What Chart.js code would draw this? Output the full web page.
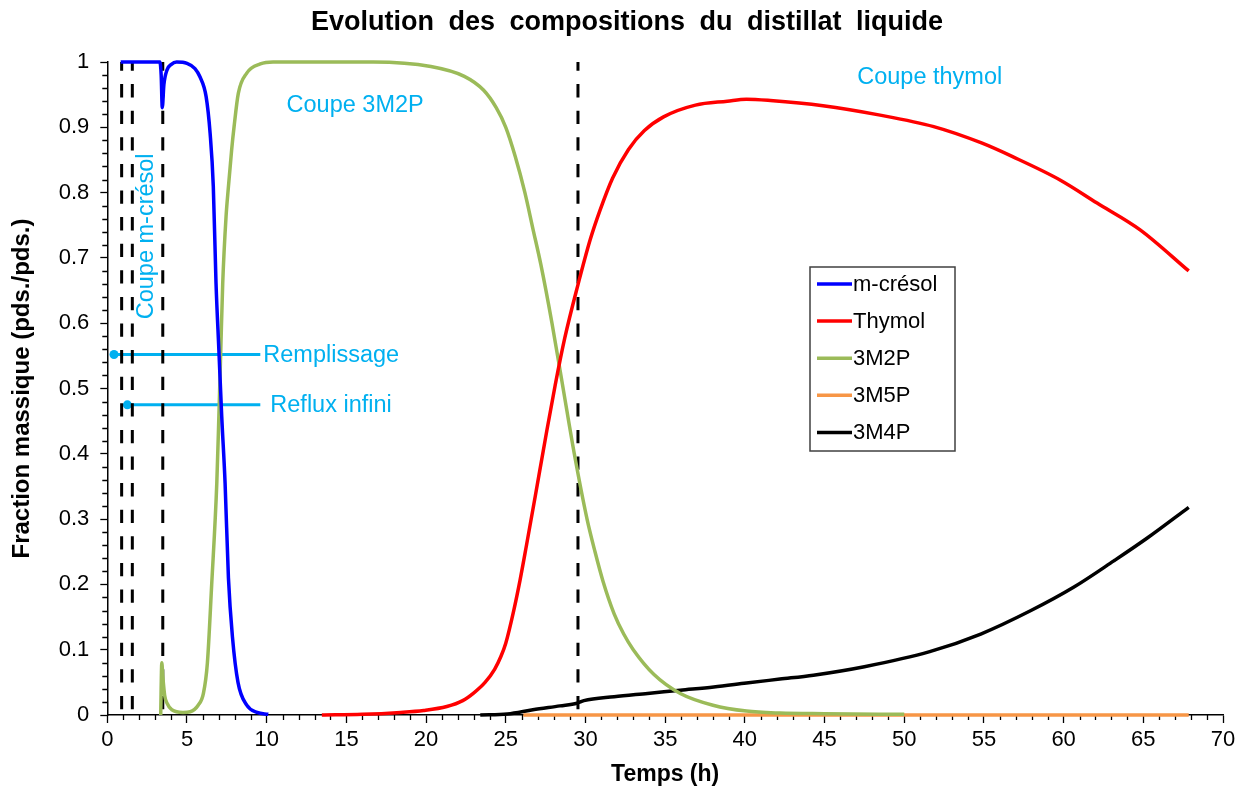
<!DOCTYPE html>
<html><head><meta charset="utf-8">
<script src="https://cdn.jsdelivr.net/npm/chart.js@4/dist/chart.umd.min.js"></script>
<style>html,body{margin:0;padding:0;background:#fff}</style>
</head><body>
<canvas id="c" width="1245" height="795"></canvas>
<script>
// ---------- texts ----------
const titleText = 'Evolution des compositions du distillat liquide';
const xTitleText = 'Temps (h)';
const yTitleText = 'Fraction massique (pds./pds.)';
const seriesNames = ['m-crésol', 'Thymol', '3M2P', '3M5P', '3M4P'];
const seriesColors = ['#0000FF', '#FF0000', '#9BBB59', '#F79646', '#000000'];

// ---------- tick labels ----------
const xTicks = [0, 5, 10, 15, 20, 25, 30, 35, 40, 45, 50, 55, 60, 65, 70];
const yTicks = [0, 0.1, 0.2, 0.3, 0.4, 0.5, 0.6, 0.7, 0.8, 0.9, 1];
const xMinorStep = 1;
const yMinorStep = 0.02;

// ---------- series ----------
const cresolX = [0.84, 3.3, 3.38, 3.45, 3.55, 3.75, 4.0, 4.35, 5.0, 5.5, 5.82, 6.2, 6.45, 6.65, 6.82, 7.0, 7.18, 7.39, 7.6, 7.85, 8.2, 8.75, 9.4, 10.1];
const cresolY = [1, 1, 0.98, 0.93, 0.965, 0.988, 0.996, 1.0, 0.998, 0.99, 0.977, 0.947, 0.891, 0.81, 0.662, 0.559, 0.457, 0.355, 0.21, 0.12, 0.05, 0.015, 0.004, 0.001];

const thymolX = [13.46, 16, 18.4, 19.85, 21.3, 22.3, 23.0, 23.7, 24.3, 24.7, 25.0, 25.5, 25.9, 26.3, 26.85, 27.5, 28.1, 28.7, 29.5, 30.3, 30.9, 31.7, 32.7, 33.7, 34.9, 36.9, 38.9, 40.1, 41.6, 44.9, 48.4, 51.85, 54.85, 56.8, 59.8, 62.1, 64.8, 67.85];
const thymolY = [0, 0.001, 0.004, 0.007, 0.013, 0.022, 0.034, 0.05, 0.07, 0.09, 0.11, 0.16, 0.207, 0.26, 0.335, 0.425, 0.505, 0.577, 0.656, 0.728, 0.772, 0.822, 0.866, 0.895, 0.916, 0.934, 0.94, 0.943, 0.941, 0.933, 0.919, 0.901, 0.876, 0.855, 0.819, 0.784, 0.743, 0.68];

const m2pX = [3.35, 3.42, 3.48, 3.6, 3.75, 4.05, 4.75, 5.2, 5.7, 6.03, 6.28, 6.55, 6.87, 7.0, 7.12, 7.24, 7.45, 7.6, 7.8, 7.95, 8.22, 8.75, 9.6, 10.4, 16.7, 20.3, 22.4, 23.6, 24.4, 25.0, 25.6, 26.2, 26.7, 27.2, 27.9, 28.6, 29.3, 30.1, 30.6, 31.1, 31.8, 32.4, 33.0, 34.3, 35.95, 38.0, 40.1, 42.2, 45, 50];
const m2pY = [0, 0.08, 0.06, 0.03, 0.018, 0.008, 0.004, 0.005, 0.015, 0.033, 0.08, 0.2, 0.355, 0.457, 0.559, 0.66, 0.763, 0.809, 0.865, 0.9, 0.952, 0.983, 0.997, 1.0, 1.0, 0.993, 0.978, 0.957, 0.93, 0.9, 0.855, 0.8, 0.745, 0.69, 0.6, 0.5, 0.4, 0.3, 0.25, 0.205, 0.155, 0.124, 0.1, 0.062, 0.033, 0.015, 0.006, 0.003, 0.002, 0.001];

const m5pX = [26.1, 30, 35, 40, 45, 50, 55, 60, 65, 67.85];
const m5pY = [0, 0, 0, 0, 0, 0, 0, 0, 0, 0];

const m4pX = [23.4, 25.1, 26.7, 28.4, 29.47, 29.9, 31.8, 33.9, 35.95, 38.05, 40.1, 42.2, 44.3, 47.5, 51.6, 54.8, 57.95, 60.65, 63.15, 65.25, 67.85];
const m4pY = [0, 0.0015, 0.008, 0.014, 0.018, 0.022, 0.028, 0.033, 0.038, 0.043, 0.049, 0.055, 0.061, 0.074, 0.097, 0.124, 0.16, 0.196, 0.236, 0.271, 0.318];

// vertical cut markers (time, h)
const cutTimes = [0.9, 1.57, 3.48, 29.53];

// annotation arrows
const annotLabels = ['Remplissage', 'Reflux infini'];
const annotStartX = [0.42, 1.26];
const annotEndX = [9.6, 9.6];
const annotY = [0.552, 0.475];

// zone labels
const zoneLabels = ['Coupe m-crésol', 'Coupe 3M2P', 'Coupe thymol'];
const zoneX = [2.49, 15.55, 51.6];
const zoneY = [0.733, 0.934, 0.977];

const CYAN = '#00B0F0';
const FONT = "'Liberation Sans', Arial, sans-serif";

function pts(xs, ys) { return xs.map((x, i) => ({ x: x, y: ys[i] })); }

const seriesX = [cresolX, thymolX, m2pX, m5pX, m4pX];
const seriesY = [cresolY, thymolY, m2pY, m5pY, m4pY];

const datasets = [];
seriesNames.forEach((name, i) => {
  datasets.push({
    label: name,
    data: pts(seriesX[i], seriesY[i]),
    borderColor: seriesColors[i],
    backgroundColor: seriesColors[i],
    borderWidth: 3.5,
    pointRadius: 0,
    showLine: true,
    cubicInterpolationMode: 'monotone',
    clip: false
  });
});
cutTimes.forEach((t) => {
  datasets.push({
    label: '_cut',
    data: [{ x: t, y: 1 }, { x: t, y: 0 }],
    borderColor: '#000',
    borderWidth: 3,
    borderDash: [13.3, 13.3],
    borderDashOffset: 4.5,
    pointRadius: 0,
    showLine: true,
    tension: 0,
    clip: false
  });
});
annotLabels.forEach((lab, i) => {
  datasets.push({
    label: '_annot',
    data: [{ x: annotStartX[i], y: annotY[i] }, { x: annotEndX[i], y: annotY[i] }],
    borderColor: CYAN,
    backgroundColor: CYAN,
    borderWidth: 3,
    pointRadius: (c) => c.dataIndex === 0 ? 4.5 : 0,
    pointBorderWidth: 0,
    showLine: true,
    tension: 0,
    clip: false
  });
});

const decor = {
  id: 'decor',
  beforeDatasetsDraw(chart) {
    const ctx = chart.ctx, xs = chart.scales.x, ys = chart.scales.y;
    ctx.save();
    ctx.strokeStyle = '#000';
    ctx.lineWidth = 1.3;
    ctx.beginPath();
    const nx = Math.round((xs.max - xs.min) / xMinorStep);
    for (let k = 0; k <= nx; k++) {
      const v = xs.min + k * xMinorStep;
      if (Math.abs(v / 5 - Math.round(v / 5)) < 1e-6) continue;
      const px = Math.round(xs.getPixelForValue(v)) + 0.5;
      ctx.moveTo(px, ys.bottom);
      ctx.lineTo(px, ys.bottom + 5);
    }
    const ny = Math.round((ys.max - ys.min) / yMinorStep);
    for (let k = 0; k <= ny; k++) {
      const v = ys.min + k * yMinorStep;
      if (Math.abs(v / 0.1 - Math.round(v / 0.1)) < 1e-6) continue;
      const py = Math.round(ys.getPixelForValue(v)) + 0.5;
      ctx.moveTo(xs.left, py);
      ctx.lineTo(xs.left - 5, py);
    }
    ctx.stroke();
    ctx.restore();
  },
  afterDraw(chart) {
    const ctx = chart.ctx, xs = chart.scales.x, ys = chart.scales.y;
    ctx.save();
    // main title
    ctx.fillStyle = '#000';
    ctx.font = 'bold 27px ' + FONT;
    ctx.textAlign = 'center';
    ctx.textBaseline = 'middle';
    if ('wordSpacing' in ctx) ctx.wordSpacing = '7px';
    ctx.fillText(titleText, 627, 23);
    if ('wordSpacing' in ctx) ctx.wordSpacing = '0px';

    // zone labels
    ctx.fillStyle = CYAN;
    ctx.font = '23.5px ' + FONT;
    zoneLabels.forEach((lab, i) => {
      const px = xs.getPixelForValue(zoneX[i]);
      const py = ys.getPixelForValue(zoneY[i]);
      ctx.save();
      ctx.translate(px, py);
      if (i === 0) ctx.rotate(-Math.PI / 2);
      ctx.textAlign = 'center';
      ctx.textBaseline = 'middle';
      ctx.fillText(lab, 0, 0);
      ctx.restore();
    });
    // annotation labels
    ctx.textAlign = 'left';
    ctx.textBaseline = 'middle';
    annotLabels.forEach((lab, i) => {
      const px = xs.getPixelForValue(annotEndX[i]) + (i === 0 ? 3 : 10);
      const py = ys.getPixelForValue(annotY[i]) + 1;
      ctx.fillText(lab, px, py);
    });

    // legend
    const lx = 810, ly = 267, lw = 145, lh = 184;
    ctx.fillStyle = '#fff';
    ctx.fillRect(lx, ly, lw, lh);
    ctx.strokeStyle = '#404040';
    ctx.lineWidth = 1.5;
    ctx.strokeRect(lx, ly, lw, lh);
    ctx.font = '22px ' + FONT;
    ctx.textAlign = 'left';
    ctx.textBaseline = 'middle';
    seriesNames.forEach((name, i) => {
      const y = ly + 17 + i * 37.1;
      ctx.strokeStyle = seriesColors[i];
      ctx.lineWidth = 3.5;
      ctx.beginPath();
      ctx.moveTo(lx + 7, y);
      ctx.lineTo(lx + 42, y);
      ctx.stroke();
      ctx.fillStyle = '#000';
      ctx.fillText(name, lx + 43, y + 1);
    });
    ctx.restore();
  }
};

new Chart(document.getElementById('c'), {
  type: 'scatter',
  data: { datasets: datasets },
  plugins: [decor],
  options: {
    responsive: false,
    animation: false,
    devicePixelRatio: 1,
    layout: { padding: { top: 62, right: 22, left: 0, bottom: 0 } },
    plugins: {
      legend: { display: false },
      tooltip: { enabled: false },
      title: { display: false }
    },
    scales: {
      x: {
        type: 'linear',
        min: xTicks[0],
        max: xTicks[xTicks.length - 1],
        afterBuildTicks: (s) => { s.ticks = xTicks.map(v => ({ value: v })); },
        afterFit: (s) => { s.height = 80; },
        ticks: {
          color: '#000',
          font: { family: FONT, size: 22 },
          padding: 4,
          maxRotation: 0,
          callback: (v) => String(v)
        },
        grid: { display: true, drawOnChartArea: false, drawTicks: true, tickLength: 8, tickColor: '#000', tickWidth: 1.3 },
        border: { display: true, color: '#000', width: 1.5 },
        title: { display: true, text: xTitleText, color: '#000', font: { family: FONT, size: 23, weight: 'bold' }, padding: { top: 0, bottom: 7 } }
      },
      y: {
        type: 'linear',
        min: yTicks[0],
        max: yTicks[yTicks.length - 1],
        afterBuildTicks: (s) => { s.ticks = yTicks.map(v => ({ value: v })); },
        afterFit: (s) => { s.width = 107.3; },
        ticks: {
          color: '#000',
          font: { family: FONT, size: 22 },
          padding: 11,
          callback: (v) => String(Math.round(v * 10) / 10)
        },
        grid: { display: true, drawOnChartArea: false, drawTicks: true, tickLength: 7, tickColor: '#000', tickWidth: 1.3 },
        border: { display: true, color: '#000', width: 1.5 },
        title: { display: true, text: yTitleText, color: '#000', font: { family: FONT, size: 24, weight: 'bold' }, padding: { top: 8, bottom: 0 } }
      }
    }
  }
});
</script>
</body></html>
